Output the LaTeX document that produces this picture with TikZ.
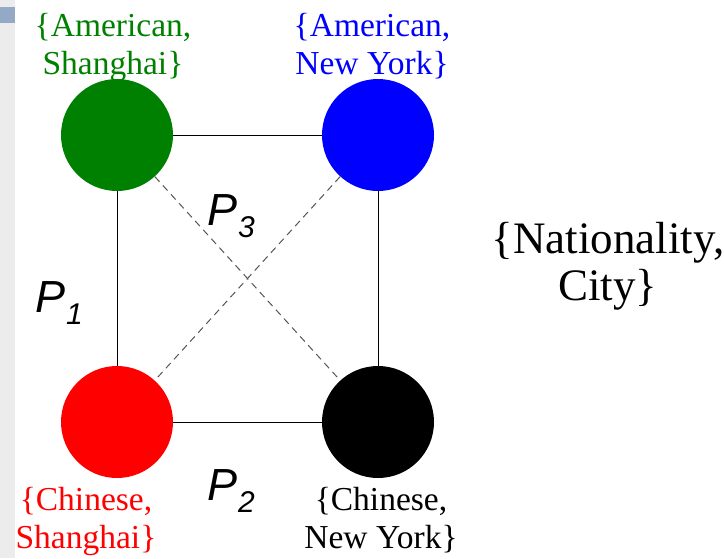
\documentclass[tikz,border=0pt]{standalone}
\usepackage{fontspec}
\setmainfont{Liberation Serif}
\setsansfont{Liberation Sans}
\usepackage{xcolor}
\usepackage{tikz}
\usetikzlibrary{positioning}

\definecolor{stripgrey}{HTML}{ECECEC}
\definecolor{stripblue}{HTML}{94A9C6}
\definecolor{ngreen}{HTML}{008000}
\definecolor{dashgrey}{HTML}{555555}

\newcommand{\pathlabel}[1]{{\sffamily\itshape P\kern1pt\raisebox{-12pt}{\fontsize{30}{30}\selectfont #1}}}

\begin{document}
\begin{tikzpicture}[x=1pt,y=-1pt,
  city/.style={circle, minimum size=112pt, inner sep=0pt},
  tag/.style={align=center, inner sep=0pt, anchor=base, font=\fontsize{33.5}{38}\selectfont},
  plabel/.style={inner sep=0pt, anchor=base west, font=\fontsize{45}{45}\selectfont},
  edge/.style={line width=1pt},
  cross/.style={line width=1pt, dashgrey, dash pattern=on 7pt off 5pt}]
\useasboundingbox (0,0) rectangle (724,558);
\fill[white] (0,0) rectangle (724,558);
\fill[stripgrey] (0,0) rectangle (15,558);
\fill[stripblue] (0,7) rectangle (15,23);
% the four values
\node[city, fill=ngreen] (as) at (117,135) {};
\node[city, fill=blue] (an) at (378,135) {};
\node[city, fill=red] (cs) at (117,422) {};
\node[city, fill=black] (cn) at (378,422) {};
% connectors
\draw[edge] (as) -- (an);
\draw[edge] (an) -- (cn);
\draw[edge] (cn) -- (cs);
\draw[edge] (cs) -- (as);
\draw[cross] (as) -- (cn);
\draw[cross] (an) -- (cs);
% value tags (anchored at the last line)
\node[tag, text=ngreen] (asl) at (113,74) {\{American,\\Shanghai\}};
\node[tag, text=blue] (anl) at (372,74) {\{American,\\New York\}};
\node[tag, text=red] (csl) at (86,548) {\{Chinese,\\Shanghai\}};
\node[tag] (cnl) at (381,548) {\{Chinese,\\New York\}};
\node[tag, font=\fontsize{45}{47}\selectfont] (attr) at (608,300) {\{Nationality,\\City\}};
% path labels
\node[plabel] (p1) at (35,312) {\pathlabel{1}};
\node[plabel] (p2) at (207,500) {\pathlabel{2}};
\node[plabel] (p3) at (207,225) {\pathlabel{3}};
\end{tikzpicture}
\end{document}
